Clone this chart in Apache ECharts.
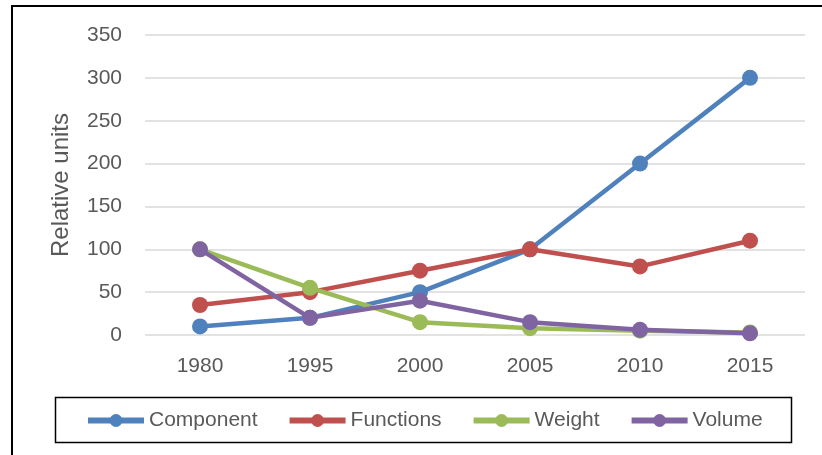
<!DOCTYPE html>
<html><head><meta charset="utf-8">
<script src="https://cdn.jsdelivr.net/npm/echarts@6/dist/echarts.min.js"></script>
<style>html,body{margin:0;padding:0;background:#fff}#c{width:822px;height:455px}</style>
</head><body><div id="c"></div>
<script>
const categories = ['1980','1995','2000','2005','2010','2015'];
const component = [10, 20, 50, 100, 200, 300];
const functions = [35, 50, 75, 100, 80, 110];
const weight = [100, 55, 15, 8, 5, 3];
const volume = [100, 20, 40, 15, 6, 2];
const seriesNames = ['Component','Functions','Weight','Volume'];
const colors = ['#4F81BD','#C0504D','#9BBB59','#8064A2'];
const FONT = '"Liberation Sans", Arial, sans-serif';
const chart = echarts.init(document.getElementById('c'));
const mk = (name, data, i) => ({
  name, type: 'line', data, symbol: 'circle', symbolSize: 16,
  lineStyle: {width: 4.5, color: colors[i]}, itemStyle: {color: colors[i]},
  z: 2 + i, animation: false
});
chart.setOption({
  animation: false,
  grid: {left: 145, right: 17, top: 35, bottom: 120},
  graphic: [
    {type: 'rect', shape: {x: 12, y: 6, width: 830, height: 470}, style: {fill: 'none', stroke: '#000', lineWidth: 2}, z: 0},
    {type: 'rect', shape: {x: 55.5, y: 397.5, width: 736, height: 45}, style: {fill: 'none', stroke: '#000', lineWidth: 1.5}, z: 0}
  ],
  legend: {
    data: seriesNames, left: 80, top: 405, itemWidth: 56, itemHeight: 16, itemGap: 29,
    lineStyle: {width: 6},
    textStyle: {fontFamily: FONT, fontSize: 21, color: '#595959'}
  },
  xAxis: {
    type: 'category', data: categories, boundaryGap: true,
    axisLine: {show: false}, axisTick: {show: false},
    axisLabel: {fontFamily: FONT, fontSize: 21, color: '#595959', margin: 21}
  },
  yAxis: {
    type: 'value', min: 0, max: 350, interval: 50,
    name: 'Relative units', nameLocation: 'middle', nameGap: 72, nameRotate: 90,
    nameTextStyle: {fontFamily: FONT, fontSize: 24, color: '#595959'},
    axisLine: {show: false}, axisTick: {show: false},
    axisLabel: {fontFamily: FONT, fontSize: 21, color: '#595959', margin: 23},
    splitLine: {lineStyle: {color: '#D9D9D9', width: 1.5}}
  },
  series: [mk('Component', component, 0), mk('Functions', functions, 1), mk('Weight', weight, 2), mk('Volume', volume, 3)]
});
</script></body></html>
